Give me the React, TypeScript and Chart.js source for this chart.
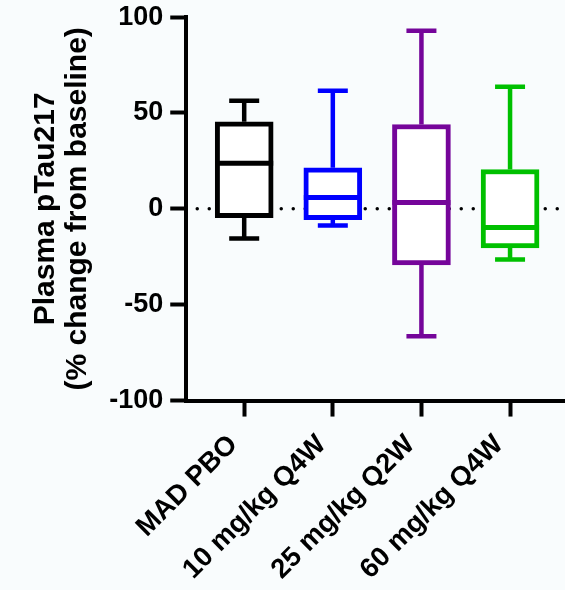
import React, { useEffect, useRef } from 'react';
import { Chart, registerables } from 'chart.js';

Chart.register(...registerables);

const categories = ['MAD PBO', '10 mg/kg Q4W', '25 mg/kg Q2W', '60 mg/kg Q4W'];
const positions = [1, 2, 3, 4];
const whiskerMin = [-15.5, -8.7, -66.5, -26.4];
const q1 = [-4.6, -5.6, -29.2, -20.4];
const median = [23.8, 5.9, 3.3, -9.7];
const q3 = [45.4, 21.4, 44.0, 20.5];
const whiskerMax = [56.4, 61.6, 92.9, 63.7];
const colors = ['#000000', '#0000ff', '#75059a', '#00c000'];
const yTickValues = [-100, -50, 0, 50, 100];

const FONT = "'Liberation Sans', Arial, sans-serif";
const BG = '#f9fcfd';

const boxPlugin = {
  id: 'boxExtras',
  beforeDraw(chart: any) {
    const ctx = chart.ctx;
    ctx.save();
    ctx.fillStyle = BG;
    ctx.fillRect(0, 0, chart.width, chart.height);
    ctx.restore();
  },
  beforeDatasetsDraw(chart: any) {
    const ctx = chart.ctx;
    const y = chart.scales.y.getPixelForValue(0);
    const { left, right } = chart.chartArea;
    ctx.save();
    ctx.strokeStyle = '#000';
    ctx.lineWidth = 3.5;
    ctx.lineCap = 'round';
    ctx.setLineDash([0, 12]);
    ctx.beginPath();
    ctx.moveTo(left + 11, y);
    ctx.lineTo(right, y);
    ctx.stroke();
    ctx.restore();
  },
  afterDatasetsDraw(chart: any) {
    const ctx = chart.ctx;
    const xs = chart.scales.x;
    const ys = chart.scales.y;
    const capHalf = 15;
    const boxHalf = 29;
    ctx.save();
    ctx.lineCap = 'butt';
    positions.forEach((p, i) => {
      const x = xs.getPixelForValue(p);
      ctx.strokeStyle = colors[i];
      ctx.lineWidth = 4.5;
      const yTop = ys.getPixelForValue(whiskerMax[i]);
      const yQ3 = ys.getPixelForValue(q3[i]);
      const yQ1 = ys.getPixelForValue(q1[i]);
      const yBot = ys.getPixelForValue(whiskerMin[i]);
      ctx.beginPath();
      ctx.moveTo(x, yQ3);
      ctx.lineTo(x, yTop);
      ctx.moveTo(x - capHalf, yTop);
      ctx.lineTo(x + capHalf, yTop);
      ctx.moveTo(x, yQ1);
      ctx.lineTo(x, yBot);
      ctx.moveTo(x - capHalf, yBot);
      ctx.lineTo(x + capHalf, yBot);
      ctx.stroke();
      const yMed = ys.getPixelForValue(median[i]);
      ctx.lineWidth = 5;
      ctx.beginPath();
      ctx.moveTo(x - boxHalf, yMed);
      ctx.lineTo(x + boxHalf, yMed);
      ctx.stroke();
    });
    ctx.restore();
  },
};

export default function App() {
  const ref = useRef<HTMLCanvasElement>(null);
  useEffect(() => {
    document.body.style.margin = '0';
    document.body.style.background = BG;
    const canvas = ref.current;
    if (!canvas) return;
    const chart = new Chart(canvas, {
      type: 'bar',
      data: {
        datasets: [
          {
            data: positions.map((p, i) => ({ x: p, y: [q1[i], q3[i]] })) as any,
            backgroundColor: '#ffffff',
            borderColor: colors,
            borderWidth: 5,
            borderSkipped: false,
            barThickness: 58,
          },
        ],
      },
      options: {
        responsive: false,
        animation: false,
        events: [],
        layout: { padding: { left: 30, top: 0, right: 0, bottom: -8 } },
        plugins: { legend: { display: false }, tooltip: { enabled: false } },
        scales: {
          x: {
            type: 'linear',
            offset: false,
            min: 0.346,
            max: 4.62,
            afterBuildTicks: (scale: any) => {
              scale.ticks = positions.map((v) => ({ value: v }));
            },
            grid: {
              offset: false,
              drawOnChartArea: false,
              drawTicks: true,
              tickLength: 16,
              tickWidth: 4,
              tickColor: '#000',
            },
            border: { display: true, color: '#000', width: 4 },
            ticks: {
              autoSkip: false,
              maxRotation: 45,
              minRotation: 45,
              padding: 14,
              labelOffset: -11,
              color: '#000',
              font: { family: FONT, size: 27.5, weight: 'bold', lineHeight: 1 },
              callback: (v: any) => {
                const idx = positions.indexOf(Number(v));
                return idx >= 0 ? categories[idx] : '';
              },
            },
          },
          y: {
            type: 'linear',
            min: -100,
            max: 100,
            afterBuildTicks: (scale: any) => {
              scale.ticks = yTickValues.map((v) => ({ value: v }));
            },
            grid: {
              drawOnChartArea: false,
              drawTicks: true,
              tickLength: 16,
              tickWidth: 4,
              tickColor: '#000',
            },
            border: { display: true, color: '#000', width: 4 },
            ticks: {
              padding: 7,
              color: '#000',
              font: { family: FONT, size: 27, weight: 'bold', lineHeight: 0.75 },
            },
            title: {
              display: true,
              text: ['Plasma pTau217', '(% change from baseline)'],
              color: '#000',
              font: { family: FONT, size: 30, weight: 'bold', lineHeight: 1.07 },
              padding: { top: 0, bottom: 8 },
            },
          },
        },
      },
      plugins: [boxPlugin],
    } as any);
    return () => chart.destroy();
  }, []);
  return (
    <div style={{ width: 565, height: 590 }}>
      <canvas ref={ref} width={565} height={590} style={{ display: 'block' }} />
    </div>
  );
}
